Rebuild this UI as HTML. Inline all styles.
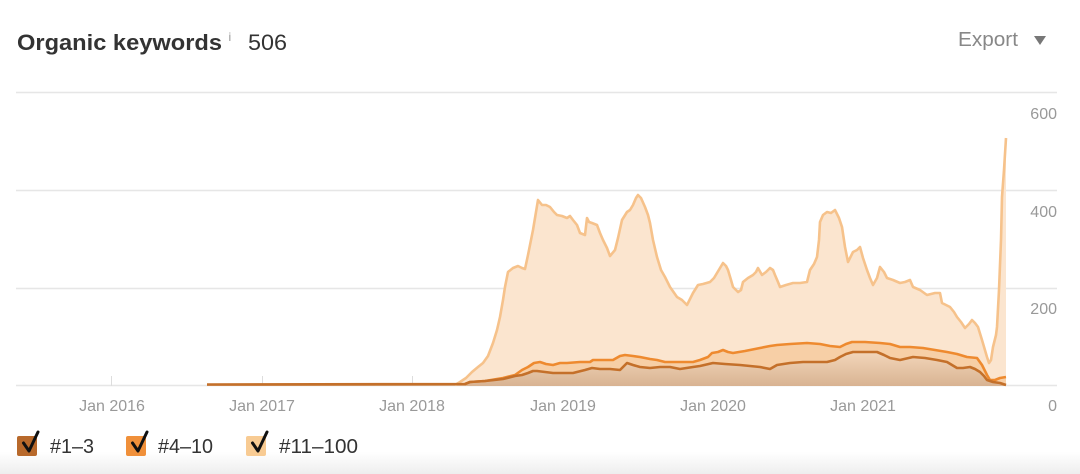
<!DOCTYPE html>
<html>
<head>
<meta charset="utf-8">
<style>
  html,body{margin:0;padding:0;}
  body{width:1080px;height:474px;overflow:hidden;position:relative;background:#fff;font-family:"Liberation Sans",Arial,sans-serif;}
  .bot{position:absolute;left:0;top:452px;width:1080px;height:22px;background:linear-gradient(#ffffff,#eeeeee);}
  svg{position:absolute;left:0;top:0;}
</style>
</head>
<body>
<div class="bot"></div>
<svg width="1080" height="474" viewBox="0 0 1080 474" xmlns="http://www.w3.org/2000/svg">
  <defs>
    <linearGradient id="bg" x1="0" y1="0" x2="0" y2="1">
      <stop offset="0" stop-color="#f3d6ba"/>
      <stop offset="1" stop-color="#d8b392"/>
    </linearGradient>
  </defs>
  <!-- title -->
  <text x="17" y="50" font-size="22" font-weight="bold" fill="#333" textLength="205" lengthAdjust="spacingAndGlyphs">Organic keywords</text>
  <text x="228.5" y="41" font-size="12" fill="#999">i</text>
  <text x="248" y="50" font-size="22" fill="#333" textLength="39" lengthAdjust="spacingAndGlyphs">506</text>
  <text x="958" y="46" font-size="20" fill="#888" textLength="60" lengthAdjust="spacingAndGlyphs">Export</text>
  <polygon points="1034,36 1046,36 1040,45" fill="#777"/>

  <!-- gridlines -->
  <g stroke="#e6e6e6" stroke-width="1.5">
    <line x1="16" y1="92.5" x2="1057" y2="92.5"/>
    <line x1="16" y1="190.5" x2="1057" y2="190.5"/>
    <line x1="16" y1="288.5" x2="1057" y2="288.5"/>
    <line x1="16" y1="385.5" x2="1057" y2="385.5"/>
  </g>
  <g stroke="#dddddd" stroke-width="1">
    <line x1="111.5" y1="376" x2="111.5" y2="386"/>
    <line x1="262.5" y1="376" x2="262.5" y2="386"/>
    <line x1="412.5" y1="376" x2="412.5" y2="386"/>
    <line x1="563.5" y1="376" x2="563.5" y2="386"/>
    <line x1="713.5" y1="376" x2="713.5" y2="386"/>
    <line x1="864.5" y1="376" x2="864.5" y2="386"/>
  </g>

  <!-- y labels -->
  <g font-size="16" fill="#999" text-anchor="end">
    <text x="1057" y="119">600</text>
    <text x="1057" y="217">400</text>
    <text x="1057" y="314">200</text>
    <text x="1057" y="411">0</text>
  </g>
  <!-- x labels -->
  <g font-size="16" fill="#999" text-anchor="middle">
    <text x="112" y="411">Jan 2016</text>
    <text x="262" y="411">Jan 2017</text>
    <text x="412" y="411">Jan 2018</text>
    <text x="563" y="411">Jan 2019</text>
    <text x="713" y="411">Jan 2020</text>
    <text x="863" y="411">Jan 2021</text>
  </g>

  <!-- 11-100 area -->
  <path fill="#fbe5cf" stroke="none" d="M207,385 L455,385 L460,382 L466,378 L472,372 L478,367 L483,363 L488,356 L493,343 L497,330 L500,317 L503,300 L505,287 L508,272 L513,268 L518,266 L522,268 L525,269 L528,255 L531,240 L533,230 L536,212 L538,200 L542,205 L546,205 L550,207 L554,212 L557,215 L562,216 L567,218 L570,216 L573,220 L577,225 L580,233 L585,235 L587,218 L589,222 L592,223 L597,225 L600,233 L603,240 L607,248 L610,256 L615,250 L618,238 L622,220 L627,212 L630,210 L633,205 L636,198 L638,195 L641,198 L645,207 L648,215 L650,223 L653,240 L657,257 L661,270 L665,277 L670,287 L677,297 L682,300 L687,305 L690,299 L693,293 L698,285 L703,284 L710,282 L714,278 L717,273 L720,268 L723,263 L726,266 L728,270 L731,280 L733,287 L738,292 L741,290 L743,282 L748,278 L753,275 L756,272 L758,268 L762,275 L766,272 L770,268 L773,270 L775,275 L778,282 L780,287 L786,285 L793,283 L800,283 L807,282 L810,270 L814,264 L817,257 L819,240 L820,222 L823,215 L827,212 L831,213 L835,210 L839,218 L842,227 L845,247 L848,262 L850,258 L853,252 L857,250 L860,247 L863,258 L867,270 L870,278 L873,285 L877,278 L880,267 L884,272 L887,278 L893,280 L900,283 L905,282 L910,280 L913,287 L920,290 L927,295 L935,293 L940,293 L942,303 L946,305 L950,307 L954,312 L957,317 L961,322 L965,328 L969,324 L972,320 L975,323 L978,327 L982,340 L987,357 L989,363 L991,360 L993,347 L996,335 L997,327 L999,290 L1001,240 L1002,197 L1004,170 L1006,138 L1006,386 L207,386 Z"/>

  <!-- 4-10 area -->
  <path fill="#f7cfa6" d="M207,385 L465,384 L470,382 L485,381 L503,378 L515,375 L522,370 L528,367 L534,363 L540,362 L546,364 L553,365 L560,363 L567,363 L580,362 L590,362 L593,360 L605,360 L613,360 L620,356 L625,355 L633,356 L640,357 L650,359 L657,360 L665,362 L670,362 L680,362 L693,362 L700,360 L708,357 L712,353 L718,352 L723,350 L728,352 L733,353 L745,351 L760,348 L770,346 L777,345 L790,344 L807,343 L820,344 L830,346 L840,347 L846,344 L852,342 L865,342 L880,343 L890,344 L900,347 L910,347 L923,348 L935,350 L947,352 L957,354 L967,357 L977,358 L982,365 L987,375 L990,380 L995,380 L1000,378 L1006,377 L1006,386 L207,386 Z"/>

  <!-- 1-3 area -->
  <path fill="url(#bg)" d="M207,385 L465,384 L470,382 L485,381 L503,379 L515,376 L522,375 L528,373 L533,371 L537,371 L545,372 L553,373 L563,373 L573,373 L585,370 L592,368 L600,369 L610,369 L620,370 L624,366 L627,363 L633,365 L640,367 L650,368 L660,367 L670,367 L680,369 L693,367 L700,366 L713,363 L725,364 L740,365 L760,367 L770,369 L777,365 L790,363 L803,362 L815,362 L827,362 L835,360 L840,357 L846,354 L853,352 L865,352 L877,352 L884,355 L890,358 L900,360 L913,357 L925,358 L937,360 L947,362 L952,365 L957,368 L963,368 L970,367 L975,369 L980,372 L984,376 L987,380 L993,382 L1000,383 L1006,385 L1006,386 L207,386 Z"/>

  <!-- lines -->
  <path fill="none" stroke="#f6c28b" stroke-width="2.6" stroke-linejoin="round" d="M455,385 L460,382 L466,378 L472,372 L478,367 L483,363 L488,356 L493,343 L497,330 L500,317 L503,300 L505,287 L508,272 L513,268 L518,266 L522,268 L525,269 L528,255 L531,240 L533,230 L536,212 L538,200 L542,205 L546,205 L550,207 L554,212 L557,215 L562,216 L567,218 L570,216 L573,220 L577,225 L580,233 L585,235 L587,218 L589,222 L592,223 L597,225 L600,233 L603,240 L607,248 L610,256 L615,250 L618,238 L622,220 L627,212 L630,210 L633,205 L636,198 L638,195 L641,198 L645,207 L648,215 L650,223 L653,240 L657,257 L661,270 L665,277 L670,287 L677,297 L682,300 L687,305 L690,299 L693,293 L698,285 L703,284 L710,282 L714,278 L717,273 L720,268 L723,263 L726,266 L728,270 L731,280 L733,287 L738,292 L741,290 L743,282 L748,278 L753,275 L756,272 L758,268 L762,275 L766,272 L770,268 L773,270 L775,275 L778,282 L780,287 L786,285 L793,283 L800,283 L807,282 L810,270 L814,264 L817,257 L819,240 L820,222 L823,215 L827,212 L831,213 L835,210 L839,218 L842,227 L845,247 L848,262 L850,258 L853,252 L857,250 L860,247 L863,258 L867,270 L870,278 L873,285 L877,278 L880,267 L884,272 L887,278 L893,280 L900,283 L905,282 L910,280 L913,287 L920,290 L927,295 L935,293 L940,293 L942,303 L946,305 L950,307 L954,312 L957,317 L961,322 L965,328 L969,324 L972,320 L975,323 L978,327 L982,340 L987,357 L989,363 L991,360 L993,347 L996,335 L997,327 L999,290 L1001,240 L1002,197 L1004,170 L1006,138"/>

  <path fill="none" stroke="#ee8a2f" stroke-width="2.6" stroke-linejoin="round" d="M465,384 L470,382 L485,381 L503,378 L515,375 L522,370 L528,367 L534,363 L540,362 L546,364 L553,365 L560,363 L567,363 L580,362 L590,362 L593,360 L605,360 L613,360 L620,356 L625,355 L633,356 L640,357 L650,359 L657,360 L665,362 L670,362 L680,362 L693,362 L700,360 L708,357 L712,353 L718,352 L723,350 L728,352 L733,353 L745,351 L760,348 L770,346 L777,345 L790,344 L807,343 L820,344 L830,346 L840,347 L846,344 L852,342 L865,342 L880,343 L890,344 L900,347 L910,347 L923,348 L935,350 L947,352 L957,354 L967,357 L977,358 L982,365 L987,375 L990,380 L995,380 L1000,378 L1006,377"/>

  <path fill="none" stroke="#c4702a" stroke-width="2.6" stroke-linejoin="round" d="M207,384.5 L465,384 L470,382 L485,381 L503,379 L515,376 L522,375 L528,373 L533,371 L537,371 L545,372 L553,373 L563,373 L573,373 L585,370 L592,368 L600,369 L610,369 L620,370 L624,366 L627,363 L633,365 L640,367 L650,368 L660,367 L670,367 L680,369 L693,367 L700,366 L713,363 L725,364 L740,365 L760,367 L770,369 L777,365 L790,363 L803,362 L815,362 L827,362 L835,360 L840,357 L846,354 L853,352 L865,352 L877,352 L884,355 L890,358 L900,360 L913,357 L925,358 L937,360 L947,362 L952,365 L957,368 L963,368 L970,367 L975,369 L980,372 L984,376 L987,380 L993,382 L1000,383 L1006,385"/>

  <!-- legend -->
  <rect x="17" y="436" width="20" height="20" rx="2" fill="#b8692b"/>
  <path d="M23.5,443 L29,451 L38,432" fill="none" stroke="#111" stroke-width="3" stroke-linecap="round" stroke-linejoin="round"/>
  <text x="50" y="453" font-size="20" fill="#333" textLength="44" lengthAdjust="spacingAndGlyphs">#1–3</text>

  <rect x="126" y="436" width="20" height="20" rx="2" fill="#f0903a"/>
  <path d="M132.5,443 L138,451 L147,432" fill="none" stroke="#111" stroke-width="3" stroke-linecap="round" stroke-linejoin="round"/>
  <text x="158" y="453" font-size="20" fill="#333" textLength="55" lengthAdjust="spacingAndGlyphs">#4–10</text>

  <rect x="246" y="436" width="20" height="20" rx="2" fill="#f8cb93"/>
  <path d="M252.5,443 L258,451 L267,432" fill="none" stroke="#111" stroke-width="3" stroke-linecap="round" stroke-linejoin="round"/>
  <text x="279" y="453" font-size="20" fill="#333" textLength="79" lengthAdjust="spacingAndGlyphs">#11–100</text>
</svg>
</body>
</html>
